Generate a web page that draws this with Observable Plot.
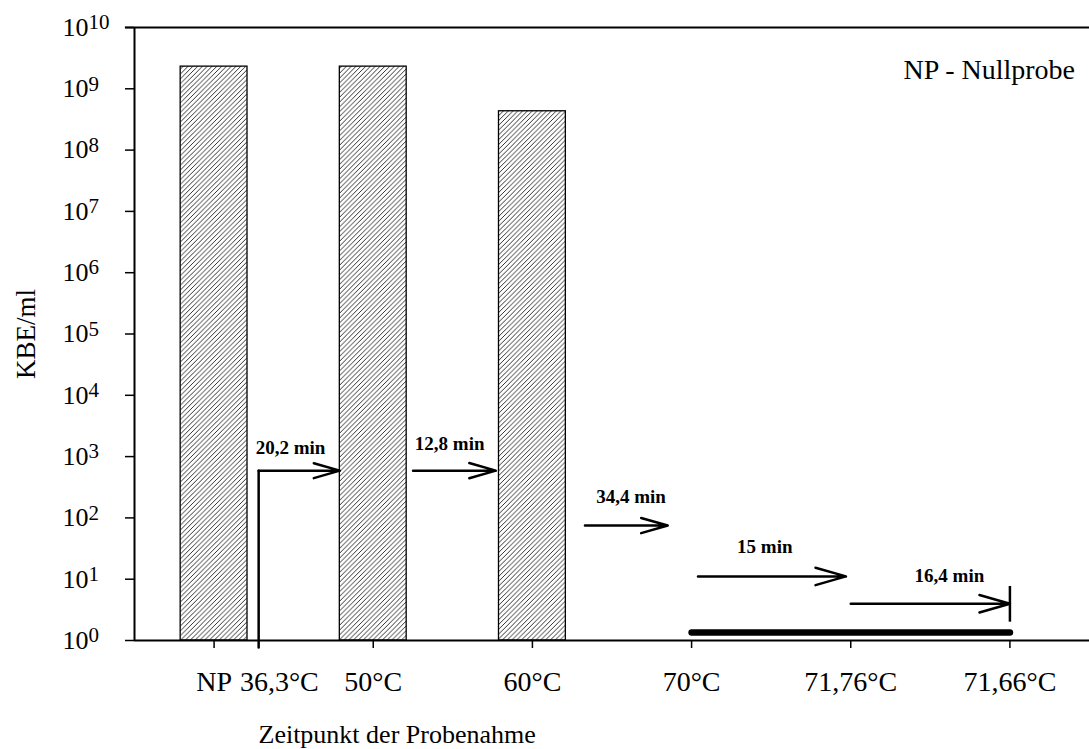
<!DOCTYPE html>
<html><head><meta charset="utf-8">
<script src="https://cdn.jsdelivr.net/npm/d3@7"></script>
<script src="https://cdn.jsdelivr.net/npm/@observablehq/plot@0.6"></script>
<style>body{margin:0;background:#fff;} #chart svg{display:block;}</style>
</head><body><div id="chart"></div>
<script>
// ---- data ----
const categories = ["NP", "50°C", "60°C", "70°C", "71,76°C", "71,66°C"];
const categoryPos = [0, 1, 2, 3, 4, 5];
const barPos = [0, 1, 2];
const barValues = [2.3e9, 2.3e9, 4.3e8];
const yExponents = [0, 1, 2, 3, 4, 5, 6, 7, 8, 9, 10];
const startTempLabel = "36,3°C";
const startTempPos = 0.41;
const startLineX = [0.28, 0.28];
const startLineY = [0.77, 590];
const arrowX1 = [0.28, 1.25, 2.33, 3.04, 4.0];
const arrowX2 = [0.79, 1.77, 2.85, 3.97, 5.0];
const arrowY = [590, 590, 75, 11.1, 3.97];
const arrowLabels = ["20,2 min", "12,8 min", "34,4 min", "15 min", "16,4 min"];
const arrowLabelX = [0.48, 1.48, 2.62, 3.46, 4.62];
const arrowLabelY = [1400, 1600, 219, 33.6, 11.5];
const endMarkX = [5];
const endMarkY1 = [1.99];
const endMarkY2 = [7.6];
const zeroLineX = [3, 5];
const zeroLineY = [1.35, 1.35];
const noteText = ["NP - Nullprobe"];
const noteX = [4.87];
const noteY = [2.0e9];
const xTitle = "Zeitpunkt der Probenahme";
const xTitlePos = 1.15;
const yTitle = "KBE/ml";
const yTitleValue = 1e5;

// ---- build tables ----
const bars = barPos.map((p, i) => ({pos: p, value: barValues[i]}));
const arrows = arrowX1.map((x, i) => ({x1: x, x2: arrowX2[i], y: arrowY[i]}));
const arrowTexts = arrowLabels.map((t, i) => ({t, x: arrowLabelX[i], y: arrowLabelY[i]}));
const startLine = startLineX.map((x, i) => ({x, y: startLineY[i]}));
const zeroLine = zeroLineX.map((x, i) => ({x, y: zeroLineY[i]}));
const endMark = endMarkX.map((x, i) => ({x, y1: endMarkY1[i], y2: endMarkY2[i]}));
const notes = noteText.map((t, i) => ({t, x: noteX[i], y: noteY[i]}));

const serif = "'Liberation Serif', 'Times New Roman', serif";

const hatchDefs = () => {
  const defs = d3.create("svg:defs");
  const p = defs.append("pattern")
    .attr("id", "hatch")
    .attr("patternUnits", "userSpaceOnUse")
    .attr("width", 4.8).attr("height", 4.8);
  p.append("rect").attr("width", 4.8).attr("height", 4.8).attr("fill", "white");
  p.append("path")
    .attr("d", "M-1.2,1.2 L1.2,-1.2 M0,4.8 L4.8,0 M3.6,6 L6,3.6")
    .attr("stroke", "black").attr("stroke-width", 0.8);
  return defs.node();
};

const chart = Plot.plot({
  width: 1089,
  height: 749,
  marginLeft: 134,
  marginRight: 0,
  marginTop: 27,
  marginBottom: 109,
  style: {fontFamily: serif, fontSize: "26px", color: "black", background: "white"},
  x: {type: "linear", domain: [-0.5, 5.5]},
  y: {type: "log", domain: [1, 1e10]},
  marks: [
    hatchDefs,
    Plot.rectY(bars, {x1: d => d.pos - 0.21, x2: d => d.pos + 0.21, y1: 1, y2: "value",
      fill: "url(#hatch)", stroke: "black", strokeWidth: 1.3}),
    // frame lines
    Plot.ruleY([1e10], {x1: -0.557, x2: 5.5, stroke: "black", strokeWidth: 2}),
    Plot.ruleY([1], {stroke: "black", strokeWidth: 2}),
    Plot.ruleX([-0.5], {stroke: "black", strokeWidth: 2}),
    Plot.axisX({ticks: categoryPos, tickFormat: i => categories[i], tickSize: 8, tickPadding: 23,
      fontSize: 28, strokeWidth: 1.5, label: null}),
    Plot.axisY({ticks: yExponents.map(e => 10 ** e), tickFormat: () => "10", tickSize: 9,
      tickPadding: 37, fontSize: 26, strokeWidth: 1.5, label: null}),
    Plot.text(yExponents, {y: e => 10 ** e, text: e => String(e), frameAnchor: "left",
      dx: -46, dy: -5, textAnchor: "start", lineAnchor: "middle", fontSize: 21}),
    Plot.text([startTempLabel], {x: startTempPos, text: d => d, frameAnchor: "bottom", dy: 42,
      lineAnchor: "middle", fontSize: 28}),
    // annotations
    Plot.line(startLine, {x: "x", y: "y", stroke: "black", strokeWidth: 2.5}),
    Plot.arrow(arrows, {x1: "x1", x2: "x2", y1: "y", y2: "y", stroke: "black", strokeWidth: 2.5,
      headLength: 19, headAngle: 32}),
    Plot.ruleX(endMark, {x: "x", y1: "y1", y2: "y2", stroke: "black", strokeWidth: 2.5}),
    Plot.line(zeroLine, {x: "x", y: "y", stroke: "black", strokeWidth: 6.5, strokeLinecap: "round"}),
    Plot.text(arrowTexts, {x: "x", y: "y", text: "t", fontWeight: "bold", fontSize: 19}),
    Plot.text(notes, {x: "x", y: "y", text: "t", fontSize: 28}),
    Plot.text([xTitle], {x: xTitlePos, text: d => d, frameAnchor: "bottom", dy: 94,
      lineAnchor: "middle", fontSize: 26}),
    Plot.text([yTitle], {y: yTitleValue, text: d => d, frameAnchor: "left", dx: -108, rotate: -90,
      textAnchor: "middle", lineAnchor: "middle", fontSize: 27})
  ]
});
document.getElementById("chart").append(chart);
</script>
</body></html>
